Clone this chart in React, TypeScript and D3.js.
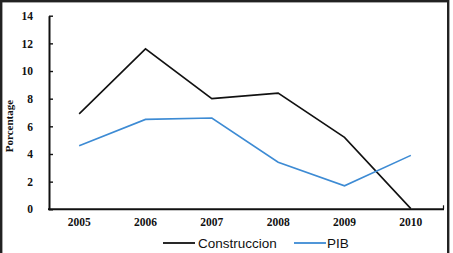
import React, { useEffect, useRef } from 'react';
import * as d3 from 'd3';

const years = ['2005', '2006', '2007', '2008', '2009', '2010'];
const construccion = [6.9, 11.6, 8.0, 8.4, 5.2, 0.05];
const pib = [4.6, 6.5, 6.6, 3.4, 1.7, 3.9];
const yTicks = [0, 2, 4, 6, 8, 10, 12, 14];

const series = [
  { name: 'Construccion', values: construccion, color: '#111111' },
  { name: 'PIB', values: pib, color: '#3d8bd4' },
];

const App = () => {
  const chartRef = useRef<SVGSVGElement | null>(null);

  useEffect(() => {
    if (!chartRef.current) return;
    const width = 453;
    const height = 253;
    const axisX = 49;
    const axisRight = 444;
    const marginTop = 15.7;
    const baseY = 209.3;

    const svg = d3.select(chartRef.current)
      .attr('width', width)
      .attr('height', height)
      .attr('viewBox', [0, 0, width, height].join(' '));
    svg.selectAll('*').remove();

    svg.append('rect')
      .attr('width', width)
      .attr('height', height)
      .attr('fill', '#fff');

    // frame around the whole chart
    svg.append('rect')
      .attr('x', 1.2)
      .attr('y', 1.2)
      .attr('width', 447)
      .attr('height', 270)
      .attr('fill', 'none')
      .attr('stroke', '#222')
      .attr('stroke-width', 2.4);

    const x = d3.scaleBand<string>()
      .domain(years)
      .range([46, axisRight]);

    const y = d3.scaleLinear()
      .domain([0, 14])
      .range([baseY, marginTop]);

    const cx = (d: string) => (x(d) ?? 0) + x.bandwidth() / 2;

    // y axis, ticks point into the plot
    svg.append('g')
      .attr('transform', `translate(${axisX},0)`)
      .call(d3.axisLeft(y).tickValues(yTicks).tickSizeInner(-4).tickSizeOuter(0).tickPadding(16))
      .call(g => g.select('.domain').attr('stroke', '#111').attr('stroke-width', 2))
      .call(g => g.selectAll('.tick line').attr('stroke', '#111').attr('stroke-width', 1.4))
      .call(g => g.selectAll('.tick text')
        .attr('fill', '#111')
        .style('font-family', '"Liberation Serif", serif')
        .style('font-weight', 'bold')
        .style('font-size', '11.5px'));

    // x axis labels
    svg.append('g')
      .attr('transform', `translate(0,${baseY})`)
      .call(d3.axisBottom(x).tickSize(0).tickPadding(9))
      .call(g => g.select('.domain').remove())
      .call(g => g.selectAll('.tick text')
        .attr('fill', '#111')
        .style('font-family', '"Liberation Serif", serif')
        .style('font-weight', 'bold')
        .style('font-size', '11.5px'));

    svg.append('line')
      .attr('x1', axisX - 1)
      .attr('x2', axisRight)
      .attr('y1', baseY)
      .attr('y2', baseY)
      .attr('stroke', '#111')
      .attr('stroke-width', 2);
    svg.append('line')
      .attr('x1', axisRight - 0.5)
      .attr('x2', axisRight - 0.5)
      .attr('y1', baseY)
      .attr('y2', baseY - 4)
      .attr('stroke', '#111')
      .attr('stroke-width', 1.2);

    svg.append('text')
      .attr('transform', `translate(13,126) rotate(-90)`)
      .attr('text-anchor', 'middle')
      .attr('fill', '#111')
      .style('font-family', '"Liberation Serif", serif')
      .style('font-weight', 'bold')
      .style('font-size', '11px')
      .text('Porcentage');

    const line = d3.line<number>()
      .x((_, i) => cx(years[i]))
      .y(d => y(d));

    svg.append('g')
      .selectAll('path')
      .data(series)
      .join('path')
      .attr('fill', 'none')
      .attr('stroke', d => d.color)
      .attr('stroke-width', 1.6)
      .attr('stroke-linejoin', 'miter')
      .attr('d', d => line(d.values));

    // legend
    const legendY = 243;
    const legendX = [163, 294];
    const legend = svg.append('g')
      .selectAll('g')
      .data(series)
      .join('g')
      .attr('transform', (_, i) => `translate(${legendX[i]},${legendY})`);
    legend.append('line')
      .attr('x1', 0)
      .attr('x2', 32)
      .attr('stroke', d => d.color)
      .attr('stroke-width', 1.8);
    legend.append('text')
      .attr('x', (_, i) => (i === 0 ? 35 : 33))
      .attr('dy', '0.36em')
      .attr('fill', '#111')
      .style('font-family', '"Liberation Sans", sans-serif')
      .style('font-size', '13.5px')
      .text(d => d.name);
  }, []);

  return <svg ref={chartRef} style={{ position: 'absolute', left: 0, top: 0 }} />;
};

export default App;
